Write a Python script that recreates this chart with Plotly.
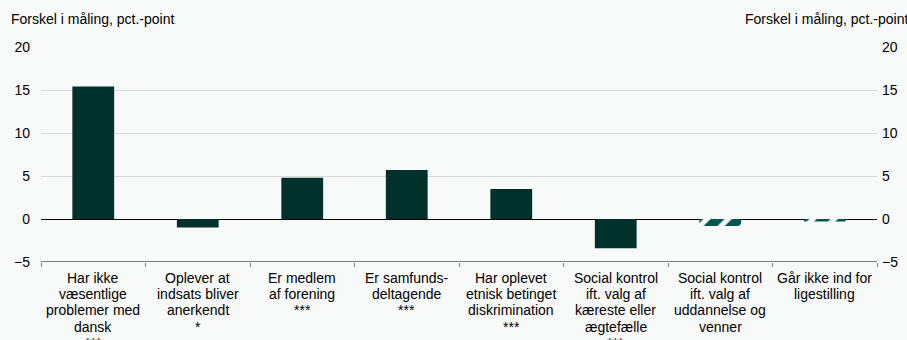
import plotly.graph_objects as go

# Category labels (line breaks as printed under each bar)
categories = [
    "Har ikke<br>væsentlige<br>problemer med<br>dansk<br>***",
    "Oplever at<br>indsats bliver<br>anerkendt<br>*",
    "Er medlem<br>af forening<br>***",
    "Er samfunds-<br>deltagende<br>***",
    "Har oplevet<br>etnisk betinget<br>diskrimination<br>***",
    "Social kontrol<br>ift. valg af<br>kæreste eller<br>ægtefælle<br>***",
    "Social kontrol<br>ift. valg af<br>uddannelse og<br>venner",
    "Går ikke ind for<br>ligestilling",
]
# Difference in measurement, percentage points
values = [15.4, -1.0, 4.8, 5.7, 3.5, -3.4, -0.8, -0.3]
# Whether the difference is statistically significant (solid) or not (hatched)
significant = [True, True, True, True, True, True, False, False]

y_ticks = [-5, 0, 5, 10, 15, 20]
axis_title = "Forskel i måling, pct.-point"

BG = "#f8f9f9"
DARK = "#02302b"
HATCH = "#07554f"
FONT = "Liberation Sans, Arial, sans-serif"
FS = 14

sig_x = [c for c, s in zip(categories, significant) if s]
sig_y = [v for v, s in zip(values, significant) if s]
ns_x = [c for c, s in zip(categories, significant) if not s]
ns_y = [v for v, s in zip(values, significant) if not s]

fig = go.Figure()
fig.add_trace(go.Bar(
    x=sig_x, y=sig_y, marker=dict(color=DARK, line=dict(width=0)),
    width=0.4, showlegend=False, hoverinfo="y",
))
fig.add_trace(go.Bar(
    x=ns_x, y=ns_y,
    marker=dict(color=BG, line=dict(width=0),
                pattern=dict(shape="/", fgcolor=HATCH, bgcolor=BG,
                             fgopacity=1, size=15, solidity=0.65)),
    width=0.4, showlegend=False, hoverinfo="y",
))
# Invisible trace so the right-hand axis is drawn
fig.add_trace(go.Scatter(x=[categories[0]], y=[0], yaxis="y2", mode="markers",
                         marker=dict(opacity=0), showlegend=False, hoverinfo="skip"))

# Category labels drawn line by line for a compact line spacing
annotations = []
for cat in categories:
    for j, line in enumerate(cat.split("<br>")):
        annotations.append(dict(
            text=line, x=cat, xref="x", y=0, yref="paper",
            xanchor="center", yanchor="middle", yshift=-16 - 16.2 * j,
            showarrow=False, font=dict(size=FS),
        ))

annotations += [
    dict(text=axis_title, xref="paper", yref="paper", x=-32 / 836, y=1,
         xanchor="left", yanchor="bottom", yshift=18, showarrow=False,
         font=dict(size=FS)),
    dict(text=axis_title, xref="paper", yref="paper", x=1 + 34 / 836, y=1,
         xanchor="right", yanchor="bottom", yshift=18, showarrow=False,
         font=dict(size=FS)),
]

fig.update_layout(
    width=907, height=340,
    margin=dict(l=41, r=30, t=47, b=78),
    paper_bgcolor=BG, plot_bgcolor=BG,
    font=dict(family=FONT, size=FS, color="#000000"),
    barmode="overlay",
    xaxis=dict(
        categoryorder="array", categoryarray=categories,
        ticks="outside", tickson="boundaries", ticklen=4, tickcolor="#808080",
        showline=False, showgrid=False, zeroline=False,
        showticklabels=False, automargin=False, fixedrange=True,
    ),
    yaxis=dict(
        range=[-5, 20], tickvals=y_ticks, showgrid=True, gridcolor="#dcdcdc",
        gridwidth=1, zeroline=True, zerolinecolor="#000000", zerolinewidth=1,
        showline=False, ticks="", ticklabelstandoff=10, fixedrange=True,
        automargin=False,
    ),
    yaxis2=dict(
        range=[-5, 20], tickvals=y_ticks, overlaying="y", side="right",
        showgrid=False, zeroline=False, showline=False, ticks="",
        ticklabelstandoff=4, fixedrange=True, automargin=False,
    ),
    shapes=[dict(type="line", xref="paper", yref="y", x0=0, x1=1, y0=-5, y1=-5,
                 line=dict(color="#000000", width=1))],
    annotations=annotations,
)

fig.write_html("out.html")
